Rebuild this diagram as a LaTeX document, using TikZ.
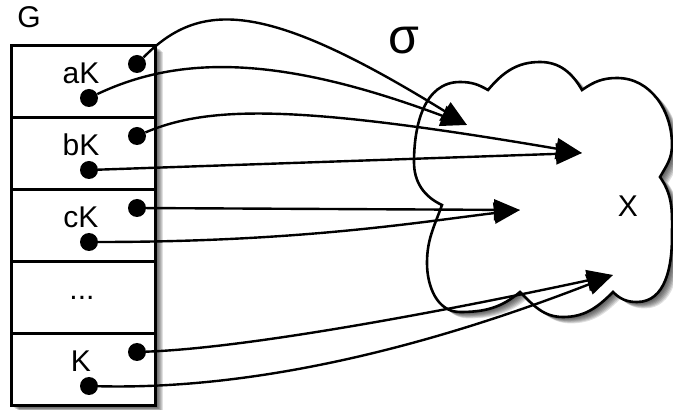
\documentclass[tikz,border=0pt]{standalone}
\usepackage{fontspec}
\setmainfont{Liberation Sans}
\usetikzlibrary{arrows.meta, calc, positioning}

% outline of the target set, drawn as a cloud
\def\cloudpath{(442,205) to[out=155,in=-90] (414,248) to[out=90,in=180] (460,328)
  to[out=0,in=150] (488,320) to[out=50,in=180] (540,348) to[out=0,in=120] (582,320)
  to[out=35,in=180] (617,332) to[out=0,in=90] (672,265) to[out=-90,in=60] (660,233)
  to[out=-55,in=90] (672,173) to[out=-90,in=0] (637,108) to[out=180,in=-45] (613,118)
  to[out=-135,in=0] (563,93) to[out=180,in=-45] (520,118) to[out=-140,in=0] (460,98)
  to[out=180,in=-90] (427,147) to[out=90,in=-110] (442,205) -- cycle}

\begin{document}
\begin{tikzpicture}[x=1pt, y=1pt, >={Triangle[length=26pt, width=21pt]},
  cell/.style={draw, line width=3pt, fill=white, minimum width=144pt, minimum height=72pt, inner sep=0pt},
  dot/.style={circle, fill=black, inner sep=0pt, minimum size=18pt},
  lbl/.style={font=\fontsize{30}{34}\selectfont, anchor=base},
  link/.style={line width=2.4pt, ->},
  shade/.style={fill=black, opacity=0.12}]
  \useasboundingbox (0,0) rectangle (673,410);

  % soft shadows under the column and the cloud
  \foreach \s in {1,...,8} {
    \fill[shade] (11+\s,4-0.7*\s) rectangle (155+\s,364-0.7*\s);
    \fill[shade, shift={(\s,-0.8*\s)}] \cloudpath;
  }
  \draw[line width=2.6pt, fill=white] \cloudpath;

  % the cosets of K in G
  \foreach \i/\name in {0/ca, 1/cb, 2/cc, 3/cd, 4/ck} {
    \node[cell] (\name) at (83,328-72*\i) {};
  }
  \node[lbl] (g) at (29,382) {G};
  \node[lbl] (la) at (81,326) {aK};
  \node[lbl] (lb) at (81,254) {bK};
  \node[lbl] (lc) at (81,182) {cK};
  \node[lbl] (ld) at (82,110) {...};
  \node[lbl] (lk) at (81,38) {K};

  \node[dot] (aR) at (137,346) {};
  \node[dot] (aL) at (89,312) {};
  \node[dot] (bR) at (137,274) {};
  \node[dot] (bL) at (89,240) {};
  \node[dot] (cR) at (137,202) {};
  \node[dot] (cL) at (89,168) {};
  \node[dot] (kR) at (137,58) {};
  \node[dot] (kL) at (89,24) {};

  \node[lbl, font=\fontsize{50}{52}\selectfont] (sigma) at (404,356) {σ};
  \node[lbl] (x) at (628,193) {X};

  \coordinate (tA) at (467,285);
  \coordinate (tB) at (582,257);
  \coordinate (tC) at (520,200);
  \coordinate (tK) at (613,135);

  \draw[link] (aR) .. controls (200,410) and (265,410) .. (tA);
  \draw[link] (aL) .. controls (180,355) and (280,355) .. (tA);
  \draw[link] (bR) .. controls (210,305) and (300,305) .. (tB);
  \draw[link] (bL) -- (tB);
  \draw[link] (cR) -- (tC);
  \draw[link] (cL) .. controls (300,168) and (420,188) .. (tC);
  \draw[link] (kR) .. controls (250,62) and (450,100) .. (tK);
  \draw[link] (kL) .. controls (250,20) and (420,60) .. (tK);
\end{tikzpicture}
\end{document}
